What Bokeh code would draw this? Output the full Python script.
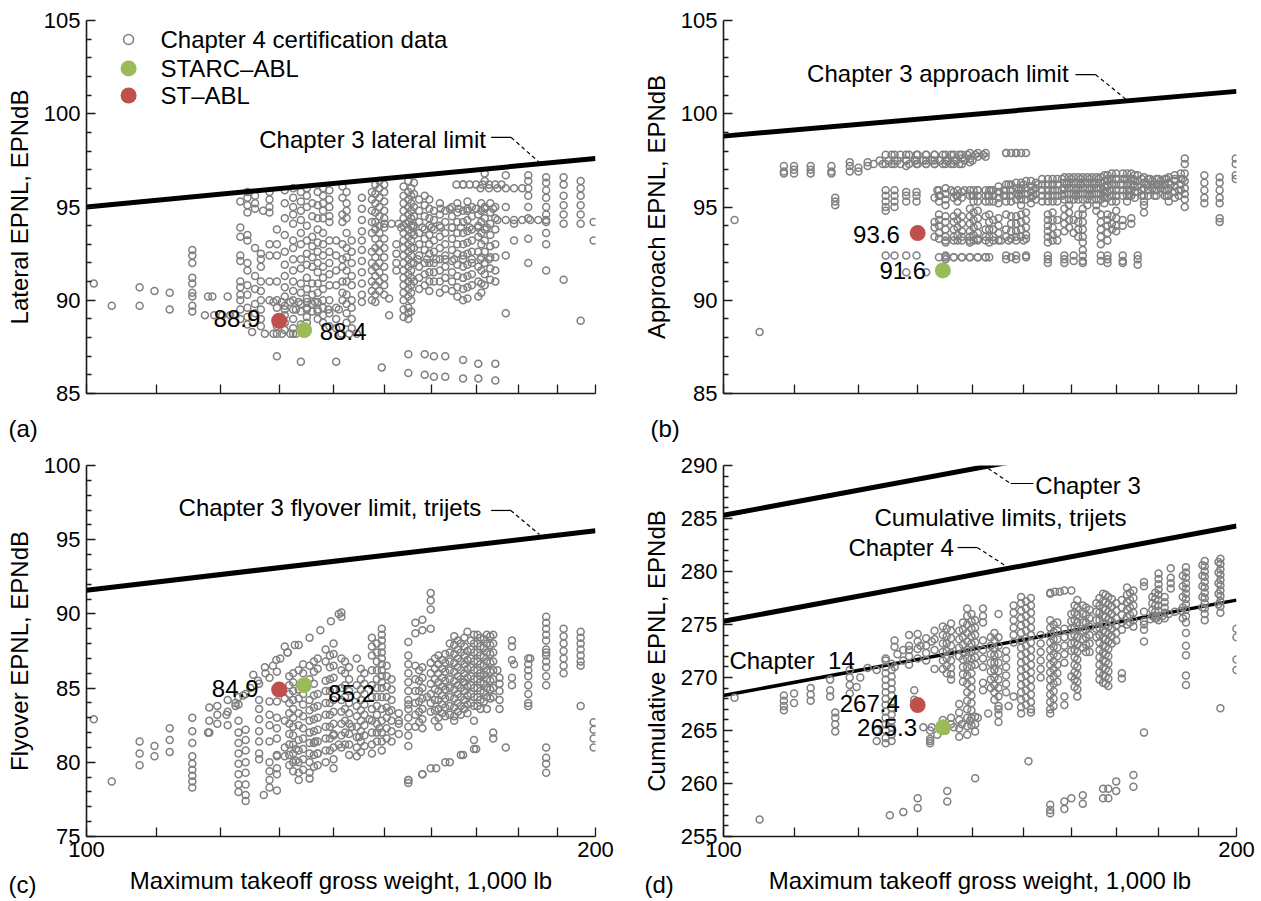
import numpy as np
from bokeh.plotting import figure
from bokeh.models import Range1d, FixedTicker, BasicTickFormatter, Title
from bokeh.layouts import column, row
from bokeh.embed import file_html
from bokeh.resources import INLINE
from bokeh.core.properties import value

FONT = "Liberation Sans"

# ---------------- data ----------------
x_ticks = [100, 110, 120, 130, 140, 150, 160, 170, 180, 190, 200]
x_tick_labels = ["100", "", "", "", "", "", "", "", "", "", "200"]

limit_w = [100, 200]
lateral_limit = [95.0, 97.6]
approach_limit = [98.8, 101.2]
flyover_limit = [91.6, 95.6]
cum_ch3_limit = [285.3, 294.3]
cum_ch4_limit = [275.3, 284.3]
cum_ch14_limit = [268.3, 277.3]

st_abl_w = 130.0
starc_abl_w = 134.5
st_abl = [88.9, 93.6, 84.9, 267.4]       # lateral, approach, flyover, cumulative
starc_abl = [88.4, 91.6, 85.2, 265.3]

# Chapter 4 certification data: columns (weight, [EPNL...]) and rows (EPNL, [weights...])
lateral_cols = [
    (101.0, [90.9]), (103.5, [89.7]), (107.5, [90.7, 89.7]), (109.7, [90.5]), (112.0, [90.4, 89.5]),
    (115.5, [92.7, 92.4, 92.0, 91.2, 90.9, 90.4, 90.2, 89.7, 89.4]),
    (123.3, [95.3, 93.9, 93.4, 92.4, 92.1, 91.0, 90.7, 90.3, 90.0, 89.5, 89.0]),
    (124.5, [95.8, 95.5, 95.1, 94.7, 93.5, 93.2, 92.0, 91.6, 90.8, 90.3, 89.6, 89.1, 88.7]),
    (125.3, [88.3]),
    (126.8, [92.5, 92.2, 91.8, 91.0, 90.5, 90.0, 89.5, 89.0, 88.6]),
    (127.2, [94.8]),
    (128.3, [95.8, 95.4, 95.0, 94.7, 93.0, 92.4, 91.0, 90.0]),
    (129.6, [93.8, 93.0, 92.4, 91.0, 90.0, 89.6, 88.6, 88.2, 87.0]),
    (132.5, [96.0, 95.5, 95.0, 94.6, 94.1, 93.2, 92.8, 92.2, 91.6, 91.0, 90.5, 90.0, 89.5, 89.0, 88.5, 88.2]),
    (133.9, [95.8, 95.3, 94.8, 94.3, 93.6, 93.0, 92.2, 91.7, 90.9, 90.4, 89.8, 89.4, 88.7, 86.7]),
    (136.0, [95.2, 94.5, 93.4, 92.9, 92.3, 91.8, 90.9, 90.3, 89.8, 89.4]),
    (138.0, [96.0, 95.6, 95.2, 94.8, 94.4, 93.6, 93.0, 92.4, 91.8, 91.2, 90.6, 90.0, 89.6, 89.2, 88.8]),
    (139.2, [95.9, 95.4, 95.0, 94.5, 94.2, 93.2, 92.6, 92.0, 91.4, 90.8, 90.0, 89.3, 88.6]),
    (140.5, [93.2, 92.4, 91.6, 90.8, 89.6, 89.0, 88.5, 86.7]),
    (141.7, [96.1, 95.5, 94.6, 94.2, 93.0, 92.2, 91.8, 91.0, 90.4, 90.0]),
    (143.5, [93.2, 92.6, 92.0, 91.3, 90.8, 90.0, 89.6, 89.0, 88.5]),
    (147.5, [95.8, 95.4, 94.8, 94.2, 93.6, 92.6, 92.0, 91.6, 91.0, 90.5, 90.0]),
    (149.0, [96.4, 96.0, 95.5, 95.0, 94.5, 94.0, 93.6, 93.0, 92.6, 92.0, 91.5, 91.0, 90.5]),
    (149.5, [86.4]), (151.0, [90.1, 89.2]), (152.5, [93.0, 92.5, 92.0, 91.6]),
    (155.0, [96.4, 95.8, 95.4, 95.0, 94.6, 94.2, 93.8, 93.4, 93.0, 92.6, 92.2, 91.8, 91.4, 91.0, 90.6, 90.2, 89.6, 89.3, 89.0, 87.1, 86.1]),
    (156.2, [96.3, 95.7, 95.0, 94.5, 94.0, 93.5, 92.8, 92.0, 91.0]),
    (158.5, [95.6, 95.1, 94.5, 93.8, 93.3, 92.7, 92.0, 91.4, 90.8, 87.1, 86.0]),
    (160.5, [94.8, 94.3, 93.8, 93.2, 92.6, 92.0, 91.5, 91.0, 87.0, 85.9]),
    (163.0, [94.8, 94.2, 93.6, 93.0, 92.4, 91.8, 91.2, 90.6, 87.0, 85.9]),
    (164.5, [95.0, 94.5, 93.9, 93.3, 92.7, 92.1, 91.5, 91.0, 90.5]),
    (167.0, [96.2, 94.8, 94.2, 93.6, 93.0, 92.4, 91.8, 91.2, 90.6, 90.0, 86.8, 85.8]),
    (169.0, [95.0, 94.5, 93.8, 93.2, 92.6, 92.0, 91.4, 90.8]),
    (170.5, [94.6, 94.0, 93.4, 92.6, 91.8, 91.0, 90.2, 86.6, 85.8]),
    (172.0, [96.8, 96.4, 95.0, 94.4, 93.8, 93.2, 92.6, 92.0, 91.4, 90.8]),
    (174.5, [95.0, 94.4, 93.8, 93.0, 92.3, 91.6, 91.0, 86.6, 85.7]),
    (177.0, [96.7, 95.0, 92.4, 89.3]), (179.0, [94.1, 93.2]),
    (182.5, [96.7, 96.4, 96.0, 95.6, 95.0, 94.4, 93.3, 92.0]),
    (187.0, [96.6, 96.3, 95.9, 95.5, 95.0, 94.6, 94.2, 93.6, 93.0, 91.6]),
    (191.5, [96.6, 96.2, 95.6, 95.1, 94.6, 94.1, 91.1]),
    (196.0, [96.4, 96.0, 95.6, 95.1, 94.6, 94.1, 88.9]),
    (199.5, [94.2, 93.2]),
]
lateral_fill_cols = [
    (125.8, [95.6, 95.2, 94.9, 92.8, 91.3, 90.6, 89.8, 89.3]),
    (131.0, [95.9, 95.2, 94.4, 93.5, 92.6, 91.9, 91.3, 90.7, 90.2, 89.7, 89.2, 88.8, 88.4]),
    (135.0, [96.0, 95.6, 95.0, 94.0, 93.2, 92.5, 91.9, 91.2, 90.6, 90.1, 89.6, 89.1, 88.8]),
    (137.0, [95.8, 95.1, 94.4, 93.8, 93.1, 92.6, 92.0, 91.5, 90.9, 90.4, 89.9, 89.4, 89.0]),
    (142.5, [95.8, 95.2, 94.8, 94.4, 93.6, 92.8, 92.3, 91.6, 91.0, 90.3, 89.8, 89.3, 88.8]),
    (145.5, [95.5, 94.9, 94.3, 93.7, 93.2, 92.7, 92.1, 91.5, 90.9, 90.3, 89.9]),
    (148.2, [96.2, 95.7, 95.2, 94.7, 94.2, 93.8, 93.3, 92.8, 92.3, 91.8, 91.3, 90.8, 90.3, 89.9]),
    (150.0, [96.2, 95.8, 95.3, 94.8, 94.4, 93.9, 93.3, 92.8, 92.3, 91.8, 91.2, 90.8, 90.3]),
    (154.0, [96.1, 95.6, 95.2, 94.8, 94.4, 94.0, 93.6, 93.2, 92.8, 92.4, 92.0, 91.6, 91.2, 90.8, 90.4, 90.0, 89.5, 89.1]),
    (155.6, [96.0, 95.6, 95.2, 94.8, 94.4, 94.0, 93.6, 93.2, 92.8, 92.4, 92.0, 91.6, 91.2, 90.8, 90.4, 90.0, 89.4]),
    (157.3, [95.4, 94.8, 94.2, 93.6, 93.0, 92.4, 91.8, 91.2, 90.6]),
    (159.5, [95.4, 94.9, 94.4, 94.0, 93.5, 93.0, 92.5, 92.0, 91.5, 91.0, 90.5]),
    (161.8, [95.2, 94.6, 94.0, 93.4, 92.8, 92.2, 91.6, 91.0, 90.4]),
    (165.7, [95.2, 94.7, 94.2, 93.6, 93.0, 92.5, 91.9, 91.3, 90.7, 90.2]),
    (168.0, [95.3, 94.8, 94.3, 93.7, 93.1, 92.5, 91.9, 91.3, 90.7, 90.1]),
    (171.2, [95.2, 94.8, 94.2, 93.6, 93.0, 92.3, 91.6, 90.9, 90.4]),
    (173.3, [95.2, 94.7, 94.1, 93.5, 92.9, 92.3, 91.7, 91.1]),
]
lateral_rows = [
    (90.2, [118.0, 118.7, 121.2]),
    (89.2, [117.5, 119.0, 120.3, 121.6, 122.5]),
    (96.2, [165.5, 167.0, 168.5, 170.0, 171.5, 173.0, 174.5, 176.0]),
    (96.0, [171.0, 173.0, 175.0, 177.0, 179.0, 181.0]),
    (94.3, [175.0, 177.0, 179.0, 181.0, 183.0, 185.0, 187.0]),
    (94.1, [150.0, 151.5, 153.0, 154.5]),
    (89.9, [129.0, 130.5, 132.0, 133.5, 135.0, 136.5]),
    (89.5, [131.0, 133.0, 135.0, 137.0, 139.0, 141.0]),
    (88.2, [127.5, 129.0, 130.5, 132.0, 133.0, 141.5, 143.0, 144.5]),
    (93.9, [153.5, 156.0, 158.0, 160.0, 162.0, 164.5, 166.5, 168.5, 170.5, 172.5]),
    (92.2, [157.0, 159.0, 161.0, 163.0, 165.0, 167.0, 169.0, 171.0, 173.0]),
    (94.9, [162.0, 164.0, 166.0, 168.0, 170.0, 172.0, 174.0]),
]

approach_cols = [
    (101.5, [94.3]), (105.0, [88.3]),
    (108.5, [97.2, 96.9, 96.8]), (110.0, [97.2, 97.0, 96.8]), (112.5, [97.2, 97.0, 96.8]),
    (115.7, [97.2, 96.9, 96.8]), (116.3, [95.5, 95.3, 95.1]), (118.6, [97.4, 97.2, 96.9]),
    (120.0, [97.1, 96.9]), (121.5, [97.4, 97.2]),
    (124.5, [97.3, 95.9, 95.6, 95.3, 95.0, 94.8, 92.4]),
    (126.0, [97.8, 97.5, 97.3, 95.9, 95.6, 95.3, 95.0, 92.4]),
    (128.0, [97.8, 97.5, 97.2, 95.8, 95.6, 95.3, 92.4, 91.5]),
    (129.8, [97.8, 97.5, 97.3, 95.8, 95.6, 95.3, 92.4]),
    (131.5, [97.8, 97.5, 97.3, 91.5]),
    (133.0, [97.8, 97.5, 97.3, 95.5, 94.2, 93.9, 93.4]),
    (135.0, [97.8, 97.5, 97.3, 96.0, 95.7, 95.4, 95.1, 94.5, 94.2, 93.8, 93.4, 93.1, 92.4, 92.2]),
    (136.5, [97.8, 97.5, 97.3, 95.8, 95.5, 94.5, 94.2, 93.8, 93.4, 92.3]),
    (138.0, [97.8, 97.6, 97.3, 95.8, 95.5, 94.5, 94.1, 93.7, 93.4, 92.3]),
    (139.5, [97.9, 97.6, 97.4, 95.9, 95.6, 94.9, 94.5, 94.1, 93.7, 93.4, 93.1, 92.3]),
    (141.0, [97.9, 97.7, 95.9, 95.6, 95.3, 94.8, 94.4, 94.0, 93.6, 93.3, 92.3]),
    (142.5, [97.9, 97.7, 95.9, 95.6, 95.3, 94.5, 93.8, 93.4, 92.3]),
    (144.0, [95.9, 95.6, 95.3, 94.3, 93.8, 93.4]),
    (146.5, [97.9, 96.2, 95.9, 95.6, 95.3, 94.6, 93.8, 93.4, 92.4, 92.2]),
    (148.5, [97.9, 96.3, 96.0, 95.7, 95.4, 94.5, 94.1, 93.7, 93.4, 92.4, 92.2]),
    (150.5, [97.9, 96.4, 96.0, 95.7, 95.4, 94.7, 94.3, 93.9, 93.5, 93.3, 92.4, 92.3]),
    (152.5, [96.3, 96.0, 95.7, 95.4]),
    (155.0, [96.5, 96.2, 95.9, 95.6, 95.3, 94.6, 94.3, 94.0, 93.7, 93.4, 93.1, 92.4, 92.2, 92.0]),
    (157.0, [96.5, 96.2, 95.9, 95.6, 95.3, 94.3, 93.6, 93.2]),
    (158.5, [96.6, 96.3, 96.0, 95.7, 95.4, 94.9, 94.5, 94.1, 93.7, 92.4, 92.2, 92.0]),
    (160.5, [96.6, 96.3, 96.0, 95.7, 95.4, 94.3, 93.6, 92.4, 92.1]),
    (162.5, [96.6, 96.3, 96.0, 95.7, 95.4, 94.9, 94.6, 94.2, 93.8, 93.4, 93.1, 92.7, 92.4, 92.1, 92.0]),
    (164.5, [96.6, 96.3, 96.0, 95.7, 95.4]),
    (166.5, [96.6, 96.3, 96.0, 95.7, 95.4, 94.6, 94.2, 93.8, 93.4, 93.0, 92.4, 92.1]),
    (168.0, [96.7, 96.4, 96.1, 95.8, 95.5, 94.6, 94.3, 94.0, 93.6, 93.2, 92.4, 92.2, 92.0]),
    (170.0, [96.8, 96.5, 96.2, 95.9, 95.6, 95.3, 94.8, 94.4, 94.0, 93.7]),
    (171.5, [96.8, 96.5, 96.2, 95.9, 95.6, 94.3, 94.0, 92.4, 92.1, 92.0]),
    (173.5, [96.8, 96.5, 96.2, 95.9, 95.6, 94.4, 94.1]),
    (175.0, [96.7, 96.4, 96.1, 95.8, 92.4, 92.2, 91.9]),
    (176.5, [96.6, 96.3, 96.0, 95.6, 95.3, 95.1, 94.7]),
    (178.5, [96.4, 96.2, 96.0]), (180.5, [96.4, 96.2, 96.0]),
    (182.5, [96.6, 96.3, 96.0, 95.6, 95.3]),
    (186.5, [97.6, 97.3, 96.8, 96.4, 96.0, 95.7, 95.4, 95.0]),
    (191.5, [96.7, 96.3, 95.9, 95.5, 95.2]),
    (195.5, [96.6, 96.3, 95.9, 95.5, 95.2, 94.4, 94.2]),
    (199.8, [97.6, 97.3, 96.7, 96.5]),
]
approach_fill_cols = [
    (133.8, [95.9, 95.6, 95.3, 94.6, 94.3, 94.0, 93.6, 93.3, 92.3]),
    (137.2, [95.9, 95.6, 95.3, 94.7, 94.3, 93.9, 93.5, 93.2]),
    (140.2, [95.9, 95.6, 95.3, 94.7, 94.3, 93.9, 93.5, 93.2]),
    (143.2, [95.9, 95.6, 95.3, 94.6, 94.2, 93.8, 93.4, 93.1, 92.3]),
    (145.0, [96.1, 95.8, 95.5, 95.2, 94.4, 94.0, 93.6, 93.2]),
    (147.5, [96.2, 95.9, 95.6, 95.3, 94.5, 94.1, 93.7, 93.3, 92.3]),
    (149.5, [96.3, 96.0, 95.7, 95.4, 95.1, 94.6, 94.2, 93.8, 93.4]),
    (151.5, [96.4, 96.1, 95.8, 95.5, 95.2]),
    (153.8, [96.5, 96.2, 95.9, 95.6, 95.3]),
    (156.0, [96.5, 96.2, 95.9, 95.6, 95.3, 94.7, 94.3, 93.9, 93.5, 93.2]),
    (159.5, [96.6, 96.3, 96.0, 95.7, 95.4, 95.1, 94.7, 94.3, 93.9]),
    (161.5, [96.6, 96.3, 96.0, 95.7, 95.4, 94.6, 94.2, 93.8, 93.4]),
    (163.5, [96.6, 96.3, 96.0, 95.7, 95.4, 95.1]),
    (165.5, [96.6, 96.3, 96.0, 95.7, 95.4, 95.1, 94.8]),
    (167.3, [96.7, 96.4, 96.1, 95.8, 95.5, 95.2]),
    (169.0, [96.8, 96.5, 96.2, 95.9, 95.6, 95.3, 94.5, 94.1, 93.8]),
    (172.5, [96.8, 96.5, 96.2, 95.9, 95.6, 95.3]),
    (174.3, [96.7, 96.4, 96.1, 95.8, 95.5]),
    (177.5, [96.5, 96.2, 95.9, 95.6]),
    (179.5, [96.5, 96.2, 95.9, 95.6]),
    (181.5, [96.5, 96.2, 95.9, 95.6]),
    (184.0, [96.7, 96.4, 96.1, 95.8, 95.5]),
    (185.5, [96.8, 96.5, 96.2, 95.9]),
]
approach_rows = [
    (97.8, [124.5, 125.5, 127.0, 128.5, 130.0, 131.5, 133.0, 134.5, 136.0, 137.5, 139.0, 140.5, 142.0]),
    (97.5, [123.5, 125.0, 126.5, 128.0, 129.5, 131.0, 132.5, 134.0, 135.5, 137.0, 138.5, 140.0]),
    (97.3, [122.5, 124.0, 125.5, 127.0, 128.5, 130.0, 131.5, 133.0, 134.5, 136.0, 137.5]),
    (97.9, [146.5, 147.5, 148.5, 149.5]),
    (96.2, [147.0, 150.0, 153.0, 156.0, 159.0, 162.0, 165.0, 168.0, 171.0, 174.0, 177.0, 180.0, 183.0]),
    (95.9, [133.5, 136.0, 138.5, 141.0, 143.5, 146.0, 149.0, 152.0, 155.0, 158.0, 161.0, 164.0, 167.0, 170.0, 173.0, 176.0, 179.0, 182.0, 185.0]),
    (95.6, [134.0, 137.0, 140.0, 143.0, 146.0, 149.0, 152.0, 155.0, 158.0, 161.0, 164.0, 167.0, 170.0, 173.0, 176.0, 179.0, 182.0, 185.0]),
    (93.2, [135.0, 136.5, 138.0, 139.5, 141.0, 142.5, 144.0, 145.5, 147.0, 148.5, 150.0]),
    (92.3, [135.0, 136.5, 138.0, 139.5, 141.0, 142.5]),
    (96.5, [158.0, 160.0, 162.0, 164.0, 166.0, 168.0, 170.0, 172.0, 174.0, 176.0, 178.0, 180.0, 182.0, 184.0, 186.0]),
]

flyover_cols = [
    (101.0, [82.9]), (103.5, [78.7]), (107.5, [81.4, 80.6, 79.8]), (109.7, [81.1, 80.4]),
    (112.0, [82.3, 81.5, 80.7]),
    (115.5, [83.0, 82.1, 81.3, 80.4, 79.9, 79.5, 79.1, 78.7, 78.3]),
    (118.2, [83.7, 82.8, 82.0]), (119.5, [83.8, 83.2]), (121.2, [84.2, 83.4, 82.5]),
    (123.0, [84.4, 83.9, 82.8, 82.0, 81.3, 80.6, 79.9, 79.2, 78.5, 78.0]),
    (124.2, [84.6, 82.2, 81.5, 80.8, 80.0, 79.3, 78.5, 77.8, 77.4]),
    (126.5, [85.3, 84.2, 83.6, 82.9, 82.1, 81.4, 80.6, 80.2]),
    (127.3, [77.8]),
    (128.3, [85.7, 84.1, 83.2, 82.5, 81.4, 80.0, 79.4, 78.8, 78.3]),
    (129.6, [86.1, 84.1, 83.0, 82.3, 81.6, 80.5, 79.2, 78.1]),
    (131.0, [87.8, 84.3, 82.8, 81.0, 80.4]),
    (132.5, [86.0, 85.4, 84.8, 84.2, 83.6, 83.0, 82.4, 81.8, 81.2, 80.6, 80.0, 79.4]),
    (133.5, [86.2, 84.9, 84.3, 83.3, 82.5, 81.5, 80.8, 80.0, 79.3, 78.8]),
    (135.5, [86.5, 85.6, 84.2, 83.5, 82.8, 82.0, 81.3, 80.6, 80.0, 79.3, 78.9]),
    (137.0, [87.0, 86.3, 84.6, 83.8, 83.0, 82.2, 81.4, 80.6, 79.8]),
    (138.5, [87.6, 86.8, 85.5, 84.8, 84.0, 83.2, 82.4, 81.6, 80.8, 80.0]),
    (140.0, [88.0, 87.3, 86.5, 85.7, 84.9, 84.2, 83.4, 82.6, 81.8, 81.0, 80.2, 79.6]),
    (141.5, [90.1, 89.8, 87.0, 86.2, 85.0, 84.2, 83.4, 82.6, 81.8, 81.0]),
    (143.0, [86.4, 85.6, 84.8, 84.0, 83.3, 82.6, 81.9, 81.2, 80.5]),
    (144.5, [87.0, 85.2, 84.5, 83.8, 83.1, 82.4, 81.7, 81.0, 80.4]),
    (146.0, [86.0, 85.3, 84.6, 83.9, 83.2, 82.5, 81.8, 81.1]),
    (147.5, [88.4, 87.8, 87.2, 86.2, 85.2, 84.4, 83.6, 82.8, 82.0, 81.2, 80.6]),
    (149.5, [89.0, 88.6, 88.2, 87.8, 87.4, 87.0, 86.6, 86.2, 85.8, 85.4, 85.0, 84.4, 83.6, 82.8, 82.0, 81.4, 80.8]),
    (151.5, [85.6, 84.9, 84.2, 83.5, 82.8, 82.1, 81.4]),
    (153.0, [83.3, 82.6, 81.9]),
    (155.0, [88.1, 87.2, 86.6, 86.0, 85.4, 84.8, 84.2, 83.6, 83.0, 82.4, 81.8, 81.1, 78.8, 78.6]),
    (156.5, [89.4, 88.7, 86.5, 85.6, 84.8, 84.0, 83.2, 82.4]),
    (158.0, [89.6, 88.9, 86.4, 85.7, 85.0, 84.3, 83.6, 82.9, 82.3, 79.2]),
    (159.8, [91.4, 90.9, 90.3, 89.0, 86.7, 86.0, 85.3, 84.6, 84.0, 83.4, 79.6]),
    (161.5, [87.2, 86.6, 86.0, 85.4, 84.8, 84.2, 83.6, 83.0, 82.4]),
    (163.0, [87.3, 86.7, 86.1, 85.5, 84.9, 84.3, 83.7, 83.1, 80.0]),
    (165.0, [88.5, 87.9, 87.3, 86.7, 86.1, 85.5, 84.9, 84.3, 83.7, 83.1, 82.8]),
    (166.5, [88.0, 87.4, 86.8, 86.2, 85.6, 85.0, 84.4, 83.8, 83.2, 80.5]),
    (168.0, [88.8, 87.5, 86.9, 86.3, 85.7, 85.1, 84.5, 83.9, 83.3]),
    (169.5, [88.6, 88.0, 87.4, 86.8, 86.2, 85.6, 85.0, 84.4, 83.8, 82.8, 81.5, 80.9]),
    (171.0, [88.4, 87.8, 87.2, 86.6, 86.0, 85.4, 84.8, 84.2, 83.6]),
    (172.5, [88.6, 88.0, 87.4, 86.8, 86.2, 85.6, 85.0, 84.4, 83.6]),
    (174.0, [88.6, 88.0, 87.4, 86.8, 86.2, 85.6, 85.0, 84.4, 82.0, 81.6]),
    (175.5, [85.7, 85.3, 84.8, 84.2, 83.6]),
    (177.0, [81.0]),
    (178.5, [88.2, 87.8, 86.9, 85.7, 85.2]),
    (182.5, [87.0, 86.6, 86.2, 85.8, 85.2, 84.6, 84.0, 83.8]),
    (187.0, [89.8, 89.4, 89.0, 88.6, 88.2, 87.6, 87.2, 86.8, 86.4, 85.8, 85.2, 81.0, 80.3, 79.9, 79.3]),
    (191.5, [89.0, 88.5, 88.0, 87.5, 87.0, 86.5, 86.0]),
    (196.0, [88.8, 88.4, 88.0, 87.6, 87.2, 86.8, 86.5, 83.8]),
    (199.5, [82.7, 82.2, 81.6, 81.0]),
]
flyover_fill_cols = [
    (131.8, [85.8, 85.2, 84.6, 84.0, 83.3, 82.6, 81.9, 81.2, 80.5, 79.8]),
    (134.3, [86.6, 86.0, 85.3, 84.6, 83.9, 83.1, 82.3, 81.6, 80.9, 80.2, 79.5]),
    (136.3, [86.8, 86.1, 85.3, 84.5, 83.7, 82.9, 82.1, 81.3, 80.5, 79.7]),
    (139.3, [87.2, 86.4, 85.6, 84.8, 84.0, 83.2, 82.4, 81.6, 80.8]),
    (142.2, [86.8, 86.0, 85.2, 84.4, 83.6, 82.8, 82.0, 81.2]),
    (145.3, [86.3, 85.6, 84.9, 84.2, 83.5, 82.8, 82.1, 81.4, 80.7]),
    (148.5, [88.0, 87.4, 86.8, 86.2, 85.6, 85.0, 84.4, 83.8, 83.2, 82.6, 82.0, 81.4]),
    (150.5, [86.5, 85.8, 85.1, 84.4, 83.7, 83.0, 82.3, 81.6]),
    (157.3, [86.2, 85.5, 84.8, 84.1, 83.4, 82.7]),
    (160.7, [87.0, 86.3, 85.6, 84.9, 84.2, 83.5, 82.8]),
    (162.3, [86.9, 86.3, 85.7, 85.1, 84.5, 83.9, 83.3]),
    (164.0, [88.0, 87.4, 86.8, 86.2, 85.6, 85.0, 84.4, 83.8, 83.2]),
    (165.8, [88.2, 87.6, 87.0, 86.4, 85.8, 85.2, 84.6, 84.0, 83.4]),
    (167.3, [88.4, 87.8, 87.2, 86.6, 86.0, 85.4, 84.8, 84.2, 83.6]),
    (168.8, [88.2, 87.6, 87.0, 86.4, 85.8, 85.2, 84.6, 84.0]),
    (170.3, [88.6, 88.0, 87.4, 86.8, 86.2, 85.6, 85.0, 84.4, 83.8]),
    (171.8, [88.3, 87.7, 87.1, 86.5, 85.9, 85.3, 84.7, 84.1]),
    (173.3, [88.5, 87.9, 87.3, 86.7, 86.1, 85.5, 84.9, 84.3]),
]
# sloping strings of points (weight, EPNL)
flyover_trail_w = [122.5, 123.8, 125.0, 126.3, 127.6, 128.9, 130.2, 131.5, 132.8,
                   125.5, 127.5, 129.5, 131.5, 133.5, 135.5, 137.5, 139.5, 141.0,
                   129.6, 133.0, 136.5, 140.0, 143.5, 147.0, 151.0, 155.0, 159.0, 163.0, 167.0, 171.0, 175.0, 179.0, 183.0, 187.0,
                   155.0, 158.0, 161.0, 164.0, 167.0, 170.0,
                   129.6, 133.0, 137.0, 141.0, 145.0, 149.0, 153.0,
                   118.0, 119.5, 121.0, 122.5]
flyover_trail_db = [84.0, 84.5, 85.0, 85.5, 86.0, 86.5, 87.0, 87.4, 87.9,
                    85.9, 86.4, 86.9, 87.4, 87.9, 88.4, 88.9, 89.5, 90.0,
                    80.4, 80.9, 81.4, 81.9, 82.4, 82.9, 83.4, 83.9, 84.4, 84.9, 85.4, 85.8, 86.2, 86.6, 87.0, 87.4,
                    78.8, 79.2, 79.6, 80.0, 80.5, 80.9,
                    79.6, 80.1, 80.6, 81.2, 81.7, 82.3, 82.8,
                    82.0, 82.6, 83.2, 83.8]

cumulative_cols = [
    (101.5, [268.1]), (105.0, [256.6]), (108.5, [268.3, 267.8, 267.3, 266.9]), (110.0, [268.5, 267.6]),
    (112.5, [269.0, 268.4, 267.8]), (115.5, [269.8, 268.8, 268.2]), (116.3, [266.7, 266.2, 265.6, 264.9]),
    (118.6, [270.7, 270.0, 269.3, 268.5]), (119.7, [269.1]), (120.3, [270.0]), (121.5, [270.9]),
    (123.0, [270.7, 265.0, 264.0]),
    (124.5, [271.6, 271.0, 270.4, 269.8, 269.2, 268.6, 268.0, 267.4, 266.8, 266.2, 265.6, 265.0, 264.3, 263.8]),
    (125.2, [257.0]), (126.0, [273.5, 272.9, 271.0]), (127.5, [272.6, 271.6, 257.3]),
    (128.5, [274.0, 273.0, 272.0, 271.2]), (129.4, [268.8, 267.9]),
    (130.0, [274.1, 273.4, 272.7, 271.8, 258.6, 257.7]),
    (131.5, [273.7, 273.0, 272.3, 271.6]), (132.2, [265.0, 264.0, 263.8]),
    (133.0, [274.4, 273.6, 272.6, 270.8]),
    (134.5, [274.8, 274.0, 273.2, 272.4, 271.6, 270.8, 266.0, 265.4]),
    (135.3, [259.3, 258.3]),
    (136.0, [275.1, 274.4, 273.7, 273.0, 272.3, 271.6, 270.9, 270.3, 269.8, 266.2, 265.6]),
    (137.5, [274.4, 273.6, 272.8, 272.0, 267.5, 266.7, 266.0, 265.2, 264.4]),
    (139.0, [276.5, 275.8, 275.0, 274.2, 273.4, 272.6, 271.8, 271.0, 270.2, 269.4, 268.6, 267.8, 267.0, 266.2, 265.4, 264.6]),
    (140.5, [275.4, 274.7, 274.0, 273.3, 272.6, 271.9, 271.2, 266.3, 265.6, 264.9, 260.5]),
    (142.0, [276.5, 275.8, 275.2, 273.5, 272.6, 271.8, 271.0, 269.5, 268.8]),
    (143.5, [273.8, 273.0, 272.2, 271.4, 270.6, 269.8, 269.0]),
    (145.0, [276.0, 273.8, 273.0, 272.2, 271.4, 270.6, 269.8, 269.0, 268.2, 267.3, 266.5, 265.8]),
    (146.5, [272.5, 271.8, 271.0, 270.2, 269.4, 268.6]),
    (148.0, [276.8, 276.1, 275.4, 274.7, 274.0, 273.3, 268.2]),
    (149.5, [277.6, 277.0, 276.3, 275.6, 274.9, 274.2, 273.5, 272.8, 272.1, 271.4, 270.7, 270.0, 269.3, 268.6, 267.9, 267.2, 266.6]),
    (151.0, [262.1]),
    (151.5, [277.5, 276.8, 276.1, 275.4, 274.7, 274.0, 273.3, 272.6, 271.9, 271.2, 270.5, 269.8, 269.1, 268.4, 267.7, 267.0, 266.7]),
    (153.5, [274.0, 273.2, 272.4, 271.6, 270.8, 270.0]),
    (155.5, [277.9, 275.4, 274.7, 274.0, 273.3, 272.6, 271.9, 271.2, 270.5, 269.8, 269.1, 268.4, 267.7, 267.0, 266.6, 258.0, 257.5, 257.2]),
    (157.0, [275.2, 274.4, 273.6, 272.8, 272.0, 271.2, 270.4, 269.6]),
    (158.5, [274.6, 273.8, 273.0, 272.2, 271.4, 268.2, 267.4, 258.3, 257.6]),
    (160.0, [276.0, 275.3, 274.6, 273.9, 273.2, 272.5, 270.1, 258.6]),
    (161.3, [277.3, 276.6, 275.9, 275.2, 274.5, 273.8, 273.1, 272.4, 271.7, 271.0, 270.3, 269.6, 268.9, 268.2]),
    (162.5, [276.8, 276.0, 275.2, 274.4, 273.6, 272.8, 258.9, 258.1]),
    (164.0, [276.4, 275.6, 274.8, 274.0, 273.2, 272.4]),
    (165.5, [277.0, 276.2, 275.4, 274.6, 273.8]),
    (167.0, [277.9, 277.2, 276.5, 275.8, 275.1, 274.4, 273.7, 273.0, 272.3, 271.6, 270.9, 270.2, 269.5, 259.5, 258.6]),
    (168.2, [277.6, 276.9, 276.2, 275.5, 274.8, 274.1, 273.4, 272.7, 272.0, 271.3, 270.6, 269.9, 269.2, 259.5, 258.6]),
    (170.0, [277.0, 276.3, 275.6, 274.9, 274.2, 273.5, 260.2, 259.3]),
    (171.3, [277.3, 276.6, 275.9, 275.2, 274.5, 270.4, 269.9]),
    (172.5, [278.5, 277.8, 277.1, 276.4, 275.7, 275.0]),
    (174.0, [278.2, 277.5, 276.8, 276.1, 275.4, 274.8, 260.8, 259.7]),
    (176.5, [279.0, 278.6, 276.2, 275.0, 274.5, 273.4, 264.8]),
    (178.5, [277.6, 277.0, 276.4, 275.8]),
    (180.0, [279.8, 279.3, 278.8, 278.3, 277.8, 277.3, 276.8, 276.3, 275.8, 275.4]),
    (181.5, [277.6, 277.1, 276.6, 276.1, 275.6]),
    (183.0, [280.3, 279.4, 278.9, 278.4]),
    (186.8, [280.4, 279.9, 279.4, 278.9, 278.4, 277.9, 277.4, 276.9, 276.4, 275.8, 275.2, 274.2, 273.0, 272.1, 270.2, 269.3]),
    (191.6, [281.0, 280.5, 280.0, 279.5, 279.0, 278.5, 278.0, 277.5, 277.0, 276.5, 276.0, 275.4]),
    (195.7, [281.2, 280.7, 280.2, 279.7, 279.2, 278.7, 278.2, 277.7, 277.2, 276.7, 276.1, 267.1]),
    (200.0, [274.6, 273.8, 271.7, 270.7]),
]
cumulative_fill_cols = [
    (125.5, [271.3, 270.7, 270.1, 269.5, 268.9, 268.3, 267.7, 267.1, 266.5, 265.9, 265.3, 264.6, 264.0]),
    (135.2, [274.6, 273.9, 273.2, 272.5, 271.8, 271.1, 270.4]),
    (138.2, [275.2, 274.5, 273.8, 273.1, 272.4, 271.7, 271.0, 270.3, 269.6]),
    (139.8, [276.0, 275.3, 274.6, 273.9, 273.2, 272.5, 271.8, 271.1, 270.4, 269.7, 269.0, 268.3, 267.6, 266.9, 266.2, 265.5]),
    (144.2, [274.2, 273.5, 272.8, 272.1, 271.4, 270.7, 270.0, 269.3, 268.6, 267.9]),
    (150.5, [277.2, 276.5, 275.8, 275.1, 274.4, 273.7, 273.0, 272.3, 271.6, 270.9, 270.2, 269.5, 268.8, 268.1, 267.4]),
    (156.2, [275.0, 274.3, 273.6, 272.9, 272.2, 271.5, 270.8, 270.1, 269.4, 268.7, 268.0, 267.3]),
    (160.7, [276.8, 276.1, 275.4, 274.7, 274.0, 273.3, 272.6, 271.9, 271.2, 270.5, 269.8, 269.1]),
    (163.2, [276.6, 275.9, 275.2, 274.5, 273.8, 273.1, 272.4]),
    (166.2, [277.5, 276.8, 276.1, 275.4, 274.7, 274.0, 273.3, 272.6, 271.9, 271.2, 270.5, 269.8]),
    (167.6, [277.8, 277.1, 276.4, 275.7, 275.0, 274.3, 273.6, 272.9, 272.2, 271.5, 270.8, 270.1, 269.4]),
    (169.0, [277.4, 276.7, 276.0, 275.3, 274.6, 273.9, 273.2]),
    (173.2, [278.0, 277.3, 276.6, 275.9, 275.2]),
    (179.2, [278.0, 277.4, 276.8, 276.2, 275.6]),
    (186.0, [279.6, 278.6, 277.6, 276.6, 275.6]),
    (191.0, [280.6, 279.6, 278.6, 277.6, 276.6]),
    (195.2, [280.9, 279.9, 278.9, 277.9, 276.9]),
]
cumulative_trail_w = [124.5, 126.5, 128.5, 130.5, 132.5,
                      132.2, 133.5, 135.0, 136.5, 138.0, 139.5, 141.0, 143.0, 145.0, 147.0,
                      131.0, 132.5,
                      155.5, 156.5, 157.5, 158.5, 160.0,
                      176.5, 178.0, 179.5, 181.0, 182.5, 184.0, 185.5]
cumulative_trail_db = [271.8, 272.2, 272.6, 273.0, 273.4,
                       264.2, 264.6, 265.0, 265.3, 265.6, 265.9, 266.2, 266.6, 267.0, 267.3,
                       265.3, 265.3,
                       278.0, 278.1, 278.1, 278.2, 278.2,
                       275.3, 275.5, 275.6, 275.8, 276.0, 276.2, 276.3]


def flatten(cols, rows=(), trail_w=(), trail_db=()):
    xs, ys = [], []
    for w, dbs in cols:
        xs += [w] * len(dbs)
        ys += list(dbs)
    for db, ws in rows:
        xs += list(ws)
        ys += [db] * len(ws)
    xs += list(trail_w)
    ys += list(trail_db)
    return xs, ys


GRAY = "#808080"
RED = "#C0504D"
GREEN = "#9BBB59"
TXT = "24px"


def make_panel(width, height, left, top, bottom, ylo, yhi, ylabel, show_x_labels):
    p = figure(width=width, height=height, x_axis_type="log",
               x_range=Range1d(100, 200), y_range=Range1d(ylo, yhi),
               output_backend="svg", toolbar_location=None,
               min_border_left=left, min_border_right=25,
               min_border_top=top, min_border_bottom=bottom)
    p.outline_line_color = None
    p.grid.visible = False
    p.background_fill_color = "white"
    p.border_fill_color = "white"
    xa = p.xaxis[0]
    xa.ticker = FixedTicker(ticks=x_ticks, minor_ticks=[])
    xa.formatter = BasicTickFormatter()
    labels = x_tick_labels if show_x_labels else [" "] * len(x_ticks)
    xa.major_label_overrides = {float(t): lab for t, lab in zip(x_ticks, labels)}
    ya = p.yaxis[0]
    ya.ticker = FixedTicker(ticks=list(range(ylo, yhi + 1, 5)),
                            minor_ticks=[v for v in range(ylo, yhi + 1) if v % 5])
    ya.axis_label = ylabel
    for ax in (xa, ya):
        ax.axis_line_color = "#1a1a1a"
        ax.axis_line_width = 1.6
        ax.major_tick_line_color = "#1a1a1a"
        ax.major_tick_line_width = 1.3
        ax.minor_tick_line_color = "#1a1a1a"
        ax.minor_tick_line_width = 1.3
        ax.major_tick_in = 9
        ax.major_tick_out = 0
        ax.minor_tick_in = 5
        ax.minor_tick_out = 0
        ax.major_label_text_font = FONT
        ax.major_label_text_font_size = "22px"
        ax.major_label_text_color = "black"
        ax.axis_label_text_font = FONT
        ax.axis_label_text_font_size = TXT
        ax.axis_label_text_font_style = "normal"
        ax.axis_label_text_color = "black"
    ya.major_label_standoff = 6
    ya.axis_label_standoff = 8
    if show_x_labels:
        xa.axis_label = "Maximum takeoff gross weight, 1,000 lb"
        xa.major_label_standoff = 5
        xa.axis_label_standoff = 7
    else:
        xa.major_label_standoff = 7
    return p


def add_scatter(p, xs, ys):
    p.scatter(xs, ys, marker="circle", size=7, fill_color=None,
              line_color=GRAY, line_width=1.5)


def add_text(p, x, y, txt, align="left", size=TXT):
    p.text(x=[x], y=[y], text=[txt], text_font=value(FONT), text_font_size=size,
           text_align=align, text_baseline="middle", text_color="black")


def add_leader(p, xs_solid, ys_solid, xs_dash, ys_dash):
    p.line(xs_solid, ys_solid, line_color="black", line_width=1.2)
    p.line(xs_dash, ys_dash, line_color="black", line_width=1.2, line_dash="4 3")


def add_dots(p, i):
    p.scatter([st_abl_w], [st_abl[i]], marker="circle", size=16, fill_color=RED, line_color=None)
    p.scatter([starc_abl_w], [starc_abl[i]], marker="circle", size=16, fill_color=GREEN, line_color=None)


def add_tag(p, txt, offset, valign, standoff):
    p.add_layout(Title(text=txt, align="left", offset=offset, vertical_align=valign,
                       standoff=standoff, text_font=FONT, text_font_size=TXT,
                       text_font_style="normal", text_color="black"), "below")


# ---------------- (a) lateral ----------------
pa = make_panel(620, 445, 86, 20, 52, 85, 105, "Lateral EPNL, EPNdB", False)
xs, ys = flatten(lateral_cols + lateral_fill_cols, lateral_rows)
add_scatter(pa, xs, ys)
pa.line(limit_w, lateral_limit, line_color="black", line_width=5)
add_text(pa, 172.3, 98.62, "Chapter 3 lateral limit", "right")
add_leader(pa, [173.5, 178.3], [98.73, 98.73], [178.3, 185.3], [98.73, 97.39])
add_dots(pa, 0)
add_text(pa, 126.7, 89.0, f"{st_abl[0]:.1f}", "right")
add_text(pa, 137.4, 88.3, f"{starc_abl[0]:.1f}", "left")
# legend
pa.scatter([105.9], [103.98], marker="circle", size=10, fill_color=None, line_color=GRAY, line_width=1.5)
pa.scatter([105.9], [102.43], marker="circle", size=16, fill_color=GREEN, line_color=None)
pa.scatter([105.9], [100.98], marker="circle", size=16, fill_color=RED, line_color=None)
add_text(pa, 110.6, 103.98, "Chapter 4 certification data")
add_text(pa, 110.6, 102.43, "STARC\u2013ABL")
add_text(pa, 110.6, 100.98, "ST\u2013ABL")
add_tag(pa, "(a)", -78, "middle", -36)

# ---------------- (b) approach ----------------
pb = make_panel(641, 445, 103, 20, 52, 85, 105, "Approach EPNL, EPNdB", False)
xs, ys = flatten(approach_cols + approach_fill_cols, approach_rows)
add_scatter(pb, xs, ys)
pb.line(limit_w, approach_limit, line_color="black", line_width=5)
add_text(pb, 159.4, 102.16, "Chapter 3 approach limit", "right")
add_leader(pb, [160.9, 165.3], [102.1, 102.1], [165.3, 172.4], [102.1, 100.75])
add_dots(pb, 1)
add_text(pb, 126.9, 93.55, f"{st_abl[1]:.1f}", "right")
add_text(pb, 131.5, 91.6, f"{starc_abl[1]:.1f}", "right")
add_tag(pb, "(b)", -73, "middle", -36)

# ---------------- (c) flyover ----------------
pc = make_panel(620, 456, 86, 20, 65, 75, 100, "Flyover EPNL, EPNdB", True)
xs, ys = flatten(flyover_cols + flyover_fill_cols, (), flyover_trail_w, flyover_trail_db)
add_scatter(pc, xs, ys)
pc.line(limit_w, flyover_limit, line_color="black", line_width=5)
add_text(pc, 171.2, 97.17, "Chapter 3 flyover limit, trijets", "right")
add_leader(pc, [173.5, 178.2], [96.97, 96.97], [178.2, 185.3], [96.97, 95.35])
add_dots(pc, 2)
add_text(pc, 126.4, 85.0, f"{st_abl[2]:.1f}", "right")
add_text(pc, 139.0, 84.64, f"{starc_abl[2]:.1f}", "left")
add_tag(pc, "(c)", -78, "top", -52)

# ---------------- (d) cumulative ----------------
pd_ = make_panel(641, 456, 103, 20, 65, 255, 290, "Cumulative EPNL, EPNdB", True)
pd_.line(limit_w, cum_ch14_limit, line_color="black", line_width=3.5)
xs, ys = flatten(cumulative_cols + cumulative_fill_cols, (), cumulative_trail_w, cumulative_trail_db)
add_scatter(pd_, xs, ys)
pd_.line(limit_w, cum_ch3_limit, line_color="black", line_width=5)
pd_.line(limit_w, cum_ch4_limit, line_color="black", line_width=5)
add_text(pd_, 152.4, 288.11, "Chapter 3", "left")
add_leader(pd_, [147.4, 152.0], [288.3, 288.3], [143.0, 147.4], [289.72, 288.3])
add_text(pd_, 145.4, 285.09, "Cumulative limits, trijets", "center")
add_text(pd_, 136.5, 282.26, "Chapter 4", "right")
add_leader(pd_, [137.2, 140.9], [282.26, 282.26], [140.9, 146.9], [282.26, 280.38])
add_text(pd_, 100.8, 271.6, "Chapter\u00a0\u00a014", "left")
add_dots(pd_, 3)
add_text(pd_, 126.9, 267.55, f"{st_abl[3]:.1f}", "right")
add_text(pd_, 129.9, 265.3, f"{starc_abl[3]:.1f}", "right")
add_tag(pd_, "(d)", -79, "top", -52)

layout = column(row(pa, pb), row(pc, pd_))
open("out.html", "w").write(file_html(layout, INLINE))
